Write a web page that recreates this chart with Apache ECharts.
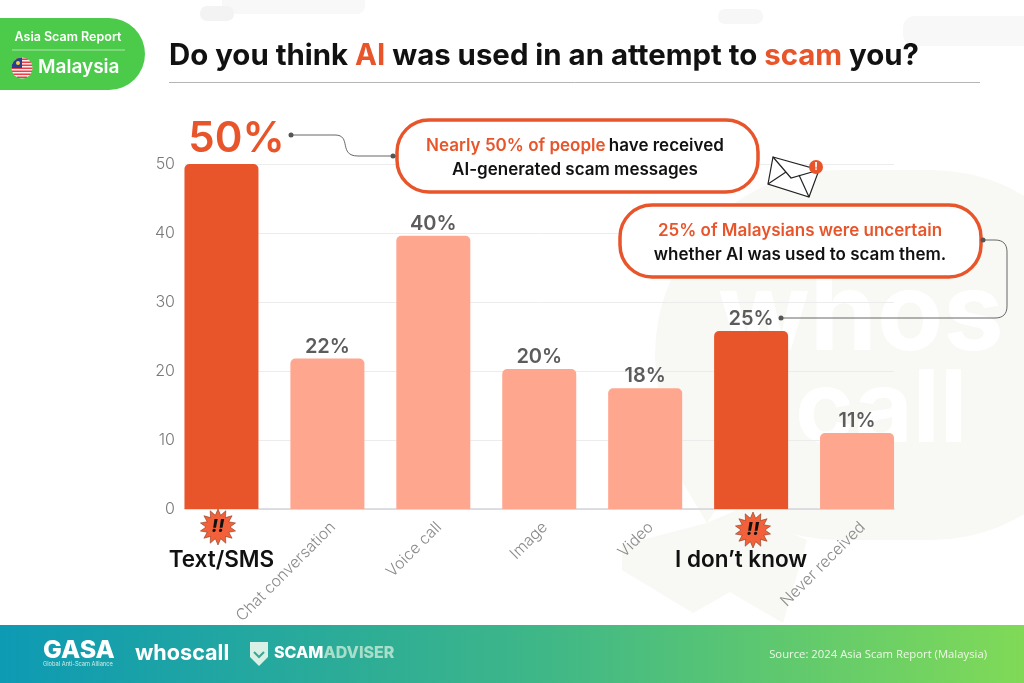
<!DOCTYPE html>
<html>
<head>
<meta charset="utf-8">
<style>html,body{margin:0;padding:0;background:#fff}#main{width:1024px;height:683px}</style>
<script src="https://cdn.jsdelivr.net/npm/echarts@6/dist/echarts.min.js"></script>
</head>
<body>
<div id="main"></div>
<script>
var categories = ['Text/SMS', 'Chat conversation', 'Voice call', 'Image', 'Video', 'I don\u2019t know', 'Never received'];
var barValues = [50, 21.8, 39.6, 20.3, 17.5, 25.8, 11];
var valueLabels = ['50%', '22%', '40%', '20%', '18%', '25%', '11%'];
var highlighted = ['Text/SMS', 'I don\u2019t know'];

var FONT = 'Inter';
var ORANGE = '#e8552b';
var PEACH = '#ffa68f';
var SHADE = '#f8f8f5';

function starPoints(cx, cy, r1, r2, n) {
  var pts = [];
  for (var i = 0; i < n * 2; i++) {
    var r = i % 2 ? r2 : r1;
    var a = Math.PI * i / n;
    pts.push([cx + r * Math.sin(a), cy - r * Math.cos(a)]);
  }
  return pts;
}

function badge(cx, cy) {
  return [
    { type: 'polygon', z: 50, shape: { points: starPoints(cx, cy, 18, 12, 14) }, style: { fill: '#f2613a', stroke: '#8a3a20', lineWidth: 0.6 } },
    { type: 'text', z: 51, x: cx, y: cy, style: { text: '!!', fill: '#111', font: 'italic 800 18px ' + FONT, align: 'center', verticalAlign: 'middle' } }
  ];
}

function callout(x, y, w, h) {
  return { type: 'rect', z: 40, shape: { x: x, y: y, width: w, height: h, r: 32 }, style: { fill: '#fff', stroke: ORANGE, lineWidth: 3.5 } };
}

function calloutText(cx, y, rich, line) {
  return { type: 'text', z: 41, x: cx, y: y, style: { text: line, rich: rich, align: 'center', verticalAlign: 'middle' } };
}

function wire(x1, y1, x2, y2) {
  return { type: 'line', z: 30, shape: { x1: x1, y1: y1, x2: x2, y2: y2 }, style: { stroke: '#666', lineWidth: 1 } };
}

function bend(x1, y1, cx1, cy1, cx2, cy2, x2, y2) {
  return { type: 'bezierCurve', z: 30, shape: { x1: x1, y1: y1, cpx1: cx1, cpy1: cy1, cpx2: cx2, cpy2: cy2, x2: x2, y2: y2 }, style: { fill: 'none', stroke: '#666', lineWidth: 1 } };
}

var boxRich = {
  o: { fill: ORANGE, font: '600 17px ' + FONT },
  k: { fill: '#111', font: '600 17px ' + FONT }
};

// flag stripes, cut to the round badge
var flag = [];
for (var s = 0; s < 7; s++) {
  var sy = 58.5 + s * 3;
  var half = Math.sqrt(Math.max(0, 110 - Math.pow(sy + 0.75 - 68, 2)));
  flag.push({ type: 'rect', z: 12, shape: { x: 22 - half, y: sy, width: half * 2, height: 1.5 }, style: { fill: '#e8404a' } });
}

var graphics = [
  // faint shapes behind the chart
  { type: 'rect', z: -2, shape: { x: 222, y: -10, width: 143, height: 24, r: 8 }, style: { fill: '#f8f8f8' } },
  { type: 'rect', z: -2, shape: { x: 200, y: 6, width: 34, height: 15, r: 7 }, style: { fill: '#f3f3f3' } },
  { type: 'rect', z: -2, shape: { x: 718, y: 9, width: 45, height: 15, r: 7 }, style: { fill: '#f7f7f7' } },
  { type: 'rect', z: -2, shape: { x: 903, y: 16, width: 140, height: 30, r: 12 }, style: { fill: '#f8f8f8' } },
  { type: 'rect', z: -2, shape: { x: 655, y: 170, width: 460, height: 370, r: 185 }, style: { fill: SHADE } },
  { type: 'polygon', z: -2, shape: { points: [[683, 483], [707, 523], [737, 510], [807, 540], [783, 623], [730, 592], [693, 613], [622, 570], [622, 545], [707, 523], [760, 440], [670, 440]] }, style: { fill: SHADE } },
  { type: 'text', z: -1, x: 718, y: 318, style: { text: 'whos', fill: '#fff', font: '700 108px ' + FONT, verticalAlign: 'middle' } },
  { type: 'text', z: -1, x: 795, y: 412, style: { text: 'call', fill: '#fff', font: '700 100px ' + FONT, verticalAlign: 'middle' } },

  // green tag
  { type: 'rect', z: 10, shape: { x: -40, y: 18, width: 185, height: 72, r: 36 }, style: { fill: '#4ccb4b' } },
  { type: 'text', z: 11, x: 68, y: 37, style: { text: 'Asia Scam Report', fill: '#fff', font: '600 12.5px ' + FONT, align: 'center', verticalAlign: 'middle' } },
  { type: 'line', z: 11, shape: { x1: 12, y1: 50, x2: 125, y2: 50 }, style: { stroke: '#a9e8a8', lineWidth: 1 } },
  { type: 'circle', z: 11, shape: { cx: 22, cy: 68, r: 10.5 }, style: { fill: '#f7ecec' } }
].concat(flag).concat([
  { type: 'sector', z: 13, shape: { cx: 22, cy: 68, r: 10.5, r0: 0, startAngle: Math.PI, endAngle: Math.PI * 1.5 }, style: { fill: '#26408f' } },
  { type: 'circle', z: 14, shape: { cx: 18, cy: 63, r: 2 }, style: { fill: '#f5cf3a' } },
  { type: 'text', z: 11, x: 38, y: 67, style: { text: 'Malaysia', fill: '#fff', font: '600 19px ' + FONT, verticalAlign: 'middle' } },

  // title rule
  { type: 'line', z: 5, shape: { x1: 169, y1: 82.5, x2: 980, y2: 82.5 }, style: { stroke: '#b5b5b5', lineWidth: 1 } },

  // callouts
  wire(291, 135, 335, 135),
  bend(335, 135, 352, 135, 338, 156, 358, 156),
  wire(358, 156, 396, 156),
  { type: 'circle', z: 30, shape: { cx: 291, cy: 135, r: 2.5 }, style: { fill: '#555' } },
  { type: 'circle', z: 41, shape: { cx: 393, cy: 156, r: 2.5 }, style: { fill: '#555' } },
  callout(397, 120, 361, 72),
  calloutText(575, 146, boxRich, '{o|Nearly 50% of people} {k|have received}'),
  calloutText(575, 170, boxRich, '{k|AI-generated scam messages}'),

  wire(983, 240, 995, 240),
  bend(995, 240, 1003, 240, 1007, 244, 1007, 252),
  wire(1007, 252, 1007, 306),
  bend(1007, 306, 1007, 314, 1003, 318, 995, 318),
  wire(995, 318, 781, 318),
  { type: 'circle', z: 41, shape: { cx: 983, cy: 240, r: 2.5 }, style: { fill: '#555' } },
  { type: 'circle', z: 30, shape: { cx: 781, cy: 318, r: 2.5 }, style: { fill: '#555' } },
  callout(620, 205, 361, 72),
  calloutText(800, 231, boxRich, '{o|25% of Malaysians were uncertain}'),
  calloutText(800, 255, boxRich, '{k|whether AI was used to scam them.}'),

  // envelope
  { type: 'polygon', z: 30, shape: { points: [[773, 157], [819, 170], [809, 197], [768, 184]] }, style: { fill: '#fff', stroke: '#222', lineWidth: 1.2 } },
  { type: 'polyline', z: 31, shape: { points: [[773, 157], [791, 178], [819, 170]] }, style: { fill: 'none', stroke: '#222', lineWidth: 1.2 } },
  { type: 'polyline', z: 31, shape: { points: [[768, 184], [786, 172]] }, style: { fill: 'none', stroke: '#222', lineWidth: 1.2 } },
  { type: 'polyline', z: 31, shape: { points: [[809, 197], [799, 175]] }, style: { fill: 'none', stroke: '#222', lineWidth: 1.2 } },
  { type: 'circle', z: 32, shape: { cx: 816, cy: 167, r: 7 }, style: { fill: ORANGE } },
  { type: 'text', z: 33, x: 816, y: 167, style: { text: '!', fill: '#fff', font: '800 10px ' + FONT, align: 'center', verticalAlign: 'middle' } }
]).concat(badge(218, 527)).concat(badge(753, 530)).concat([
  // footer
  { type: 'rect', z: 10, shape: { x: 0, y: 625, width: 1024, height: 58 }, style: { fill: { type: 'linear', x: 0, y: 0, x2: 1, y2: 0, colorStops: [{ offset: 0, color: '#0d9ab4' }, { offset: 0.5, color: '#3bb58a' }, { offset: 1, color: '#80da57' }] } } },
  { type: 'text', z: 11, x: 43, y: 650, style: { text: 'GASA', fill: '#fff', font: '800 25px ' + FONT, verticalAlign: 'middle' } },
  { type: 'text', z: 11, x: 43, y: 664, style: { text: 'Global Anti-Scam Alliance', fill: '#cdeee8', font: '400 5.7px ' + FONT, verticalAlign: 'middle' } },
  { type: 'text', z: 11, x: 135, y: 653, style: { text: 'whoscall', fill: '#fff', font: '700 21.6px ' + FONT, verticalAlign: 'middle' } },
  { type: 'polygon', z: 11, shape: { points: [[250, 642], [268, 642], [268, 657], [259, 666], [250, 657]] }, style: { fill: '#d8f0e6' } },
  { type: 'polyline', z: 12, shape: { points: [[254, 652], [259, 657], [264, 652]] }, style: { fill: 'none', stroke: '#3aa795', lineWidth: 2 } },
  { type: 'text', z: 11, x: 274, y: 653, style: { text: '{a|SCAM}{b|ADVISER}', rich: { a: { fill: '#fff', font: '800 16px ' + FONT }, b: { fill: '#a9dfca', font: '800 16px ' + FONT } }, verticalAlign: 'middle' } },
  { type: 'text', z: 11, x: 987, y: 654.5, style: { text: 'Source: 2024 Asia Scam Report (Malaysia)', fill: '#eef7e6', font: '400 11.3px "Open Sans"', align: 'right', verticalAlign: 'middle' } }
]);

var chart = echarts.init(document.getElementById('main'));

var option = {
  backgroundColor: '#fff',
  animation: false,
  title: {
    left: 164,
    top: 37,
    text: 'Do you think {o|AI} was used in an attempt to {o|scam} you?',
    textStyle: {
      color: '#111', fontFamily: FONT, fontSize: 29.4, fontWeight: 700,
      rich: { o: { color: ORANGE, fontFamily: FONT, fontSize: 29.4, fontWeight: 700 } }
    }
  },
  // grid 0 carries the scale and rules, grid 1 the wider band for the bars
  grid: [
    { left: 185, right: 130, top: 164, bottom: 174 },
    { left: 168.5, right: 114, top: 164, bottom: 174 }
  ],
  xAxis: [
    { gridIndex: 0, type: 'category', data: categories, axisLine: { lineStyle: { color: '#d4d4dc', width: 1.5 } }, axisTick: { show: false }, axisLabel: { show: false } },
    {
      gridIndex: 1, type: 'category', position: 'bottom', data: categories,
      axisLine: { show: false }, axisTick: { show: false },
      axisLabel: {
        interval: 0, rotate: 45, margin: 10, verticalAlign: 'top', color: '#8a8a8a', fontFamily: FONT, fontSize: 15.8, fontWeight: 300,
        formatter: function (v) { return highlighted.indexOf(v) >= 0 ? '' : v; }
      }
    },
    {
      gridIndex: 1, type: 'category', position: 'bottom', data: categories,
      axisLine: { show: false }, axisTick: { show: false },
      axisLabel: {
        interval: 0, margin: 40, fontFamily: FONT,
        formatter: function (v) {
          if (highlighted.indexOf(v) < 0) return '';
          return v === highlighted[1] ? '{s|' + v + '}{g|}' : '{s|' + v + '}';
        },
        rich: {
          s: { color: '#111', fontFamily: FONT, fontSize: 22.5, fontWeight: 600 },
          g: { width: 20 }
        }
      }
    }
  ],
  yAxis: [
    {
      gridIndex: 0, type: 'value', min: 0, max: 50, interval: 10,
      axisLine: { show: false }, axisTick: { show: false },
      axisLabel: { margin: 10, color: '#7a7a7a', fontFamily: FONT, fontSize: 16, fontWeight: 300 },
      splitLine: { lineStyle: { color: '#ececec', width: 1 } }
    },
    { gridIndex: 1, type: 'value', min: 0, max: 50, interval: 10, axisLine: { show: false }, axisTick: { show: false }, axisLabel: { show: false }, splitLine: { show: false } }
  ],
  series: [{
    type: 'bar',
    xAxisIndex: 1,
    yAxisIndex: 1,
    barWidth: 74,
    z: 5,
    itemStyle: { borderRadius: [5, 5, 0, 0] },
    data: barValues.map(function (v, i) {
      var hot = highlighted.indexOf(categories[i]) >= 0;
      var item = { value: v, itemStyle: { color: hot ? ORANGE : PEACH } };
      if (i === 0) {
        item.label = { color: ORANGE, fontSize: 42, fontWeight: 600, distance: 1, offset: [15, -3] };
      }
      return item;
    }),
    label: {
      show: true,
      position: 'top',
      distance: 2,
      color: '#5c5c5c',
      fontFamily: FONT,
      fontSize: 20,
      fontWeight: 600,
      formatter: function (p) { return valueLabels[p.dataIndex]; }
    }
  }],
  graphic: { elements: graphics }
};

chart.setOption(option);
</script>
</body>
</html>
